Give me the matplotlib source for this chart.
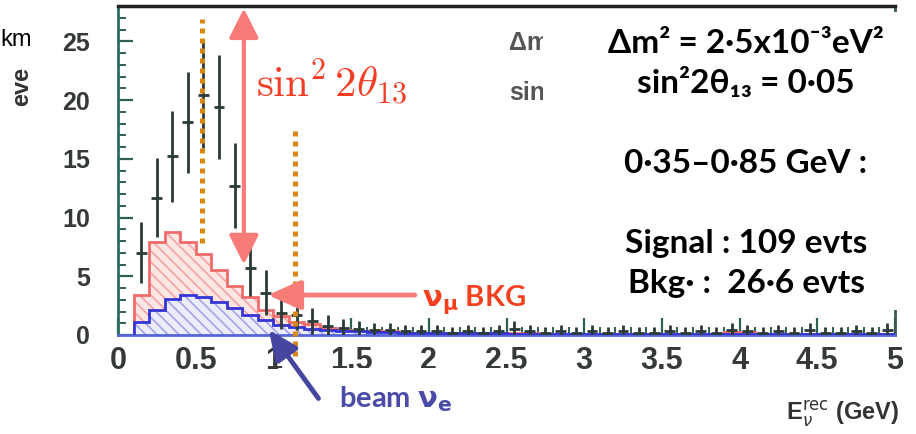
import numpy as np
import matplotlib.pyplot as plt
from matplotlib.patches import Rectangle, FancyArrowPatch

W, H = 916, 434

# 0.1 GeV bins from 0.1 to 5.0 GeV
edges = np.round(np.arange(0.1, 5.001, 0.1), 2)
centers = edges[:-1] + 0.05

data_evts = [7.0, 11.7, 15.2, 18.1, 20.4, 19.4, 12.7, 5.7, 3.6, 1.9, 1.7,
             1.2, 0.8, 0.6, 0.5, 0.4, 0.4, 0.3, 0.3, 0.3,
             0.2, 0.3, 0.2, 0.3, 0.5, 0.3, 0.2, 0.3, 0.2, 0.3,
             0.2, 0.3, 0.2, 0.2, 0.3, 0.2, 0.3, 0.2, 0.4, 0.3,
             0.2, 0.3, 0.2, 0.4, 0.2, 0.2, 0.3, 0.2, 0.4]
data_err = [2.6, 3.4, 3.9, 4.3, 4.5, 4.4, 3.6, 2.4, 1.9, 1.4, 1.3,
            1.1, 0.9, 0.8, 0.7, 0.6, 0.6, 0.55, 0.55, 0.55,
            0.45, 0.55, 0.45, 0.55, 0.7, 0.55, 0.45, 0.55, 0.45, 0.55,
            0.45, 0.55, 0.45, 0.45, 0.55, 0.45, 0.55, 0.45, 0.65, 0.55,
            0.45, 0.55, 0.45, 0.65, 0.45, 0.45, 0.55, 0.45, 0.65]

numu_bkg = [3.4, 7.9, 8.8, 7.9, 6.9, 5.5, 4.2, 3.2, 2.1, 1.6, 1.1,
            0.9, 0.6, 0.45, 0.35, 0.35, 0.3, 0.2, 0.2, 0.15,
            0.15, 0.15, 0.15, 0.15, 0.15, 0.2, 0.12, 0.12, 0.12, 0.12,
            0.12, 0.12, 0.12, 0.12, 0.12, 0.12, 0.12, 0.12, 0.25, 0.25,
            0.12, 0.12, 0.12, 0.12, 0.12, 0.12, 0.12, 0.12, 0.12]
beam_nue = [1.1, 2.1, 3.1, 3.4, 3.2, 2.8, 2.3, 1.7, 1.3, 0.85, 0.7,
            0.55, 0.45, 0.35, 0.3, 0.28, 0.25, 0.2, 0.18, 0.15,
            0.15, 0.14, 0.13, 0.13, 0.12, 0.12, 0.12, 0.11, 0.11, 0.11,
            0.1, 0.1, 0.1, 0.1, 0.1, 0.1, 0.1, 0.1, 0.1, 0.1,
            0.1, 0.1, 0.1, 0.1, 0.1, 0.1, 0.1, 0.1, 0.1]

xticks = [0, 0.5, 1, 1.5, 2, 2.5, 3, 3.5, 4, 4.5, 5]
xtick_labels = ["0", "0.5", "1", "1.5", "2", "2.5", "3", "3.5", "4", "4.5", "5"]
yticks = [0, 5, 10, 15, 20, 25]
ytick_labels = ["0", "5", "10", "15", "20", "25"]
window = [0.54, 1.14]

box_lines = ["Δm² = 2·5x10⁻³eV²", "sin²2θ₁₃ = 0·05", "0·35–0·85 GeV :",
             "Signal : 109 evts", "Bkg· :  26·6 evts"]


def fx(px):
    return px / W


def fy(py):
    return 1 - py / H


plt.rcParams['hatch.linewidth'] = 1.2
fig = plt.figure(figsize=(W / 100, H / 100), dpi=100)
ax = fig.add_axes([fx(118), fy(335), (895 - 118) / W, (335 - 6) / H])

# backgrounds
ax.stairs(numu_bkg, edges, fill=True, facecolor='#fde6e6', edgecolor='#f5a3a3',
          hatch='\\\\\\', lw=0, zorder=1)
ax.stairs(numu_bkg, edges, color='#f26b6b', lw=2, zorder=2)
ax.stairs(beam_nue, edges, fill=True, facecolor='#ececfb', edgecolor='#a3a3ea',
          hatch='\\\\\\', lw=0, zorder=2.5)
ax.stairs(beam_nue, edges, color='#3535d5', lw=2, zorder=3)

ax.errorbar(centers, data_evts, yerr=data_err, xerr=0.035, fmt='none',
            ecolor='#2b3b38', elinewidth=2, capsize=0, zorder=4)

ax.set_xlim(0, 5)
ax.set_ylim(0, 28)
ax.set_xticks(xticks)
ax.set_xticklabels(xtick_labels, fontsize=22, fontweight='bold',
                   family='Liberation Sans')
ax.set_xticks(np.arange(0, 5.01, 0.1), minor=True)
ax.set_yticks(yticks)
ax.set_yticklabels(ytick_labels, fontsize=18, fontweight='bold',
                   family='Liberation Sans')
ax.set_yticks(np.arange(0, 28, 1), minor=True)
ax.tick_params(which='both', direction='in', colors='#2d5f55',
               labelcolor='#353a39', top=False, right=False)
ax.tick_params(axis='y', which='major', length=11, width=1.6, pad=20)
ax.tick_params(axis='y', which='minor', length=6, width=1.4)
ax.tick_params(axis='x', which='major', length=12, width=1.6, pad=8)
ax.tick_params(axis='x', which='minor', length=6, width=1.4)
ax.spines['left'].set_color('#2d6b5e')
ax.spines['left'].set_linewidth(2)
ax.spines['top'].set_color('#222222')
ax.spines['top'].set_linewidth(2.5)
ax.spines['right'].set_color('#3a5a55')
ax.spines['right'].set_linewidth(2)
ax.spines['bottom'].set_color('#5565d8')
ax.spines['bottom'].set_linewidth(2)

# energy window markers
ax.plot([window[0], window[0]], [7.8, 26.9], color='#d98612', lw=3.6,
        ls=(0, (1, 1)), zorder=6)
ax.plot([window[1], window[1]], [-1.8, 17.8], color='#d98612', lw=3.6,
        ls=(0, (1, 1)), zorder=6, clip_on=False)

# arrows and labels
ax.annotate('', xy=(0.81, 27.8), xytext=(0.81, 6.0),
            arrowprops=dict(arrowstyle='<|-|>,head_length=0.9,head_width=0.45',
                            mutation_scale=20, lw=3, color='#f77c78',
                            shrinkA=0, shrinkB=0), zorder=7)
ax.text(0.89, 21.4, r'$\sin^2 2\theta_{13}$', math_fontfamily='cm',
        fontsize=31, color='#f53d25', ha='left', va='center', zorder=7)
ax.annotate('', xy=(0.965, 3.4), xytext=(1.91, 3.4),
            arrowprops=dict(arrowstyle='-|>,head_length=1.0,head_width=0.45',
                            mutation_scale=20, lw=3.5, color='#f77c78',
                            shrinkA=0, shrinkB=0), zorder=7)

# legend remnant under the white box
for txt, py in [("Δm", 50), ("sin", 100)]:
    fig.text(fx(509), fy(py), txt, fontsize=18, weight='bold', color='#555555',
             family=['Liberation Sans', 'DejaVu Sans'], ha='left',
             va='baseline', zorder=2)

# white cover boxes
fig.add_artist(Rectangle((fx(543), fy(310)), (916 - 543) / W, (310 - 12) / H,
                         transform=fig.transFigure, facecolor='white',
                         edgecolor='none', zorder=3))
fig.add_artist(Rectangle((fx(278), 0), (520 - 278) / W, (434 - 368) / H,
                         transform=fig.transFigure, facecolor='white',
                         edgecolor='none', zorder=3))
fig.add_artist(Rectangle((fx(425), fy(318)), (535 - 425) / W, (318 - 276) / H,
                         transform=fig.transFigure, facecolor='white',
                         edgecolor='none', zorder=3))

# beam nu_e arrow sits above the cover box
fig.add_artist(FancyArrowPatch((1.29, -5.4), (0.97, 0.45), transform=ax.transData,
                               arrowstyle='-|>,head_length=0.9,head_width=0.4',
                               mutation_scale=20, lw=3.5, color='#4646a0',
                               shrinkA=0, shrinkB=0, zorder=6))

for txt, py in zip(box_lines, [53, 93, 173, 253, 293]):
    fig.text(fx(746), fy(py), txt, fontsize=24, weight='bold', color='black',
             family=['Lato', 'DejaVu Sans'], ha='center', va='baseline', zorder=5)

fig.text(fx(422), fy(306), r'$\mathbf{\nu}_{\mathbf{\mu}}$ BKG', fontsize=21,
         weight='bold', color='#f5401f', family=['Lato', 'DejaVu Sans'],
         math_fontfamily='dejavusans', ha='left', va='baseline', zorder=5)
fig.text(fx(339), fy(407), r'beam $\mathbf{\nu}_{\mathbf{e}}$', fontsize=21,
         weight='bold', color='#4a4aa8', family=['Lato', 'DejaVu Sans'],
         math_fontfamily='dejavusans', ha='left', va='baseline', zorder=5)

# axis titles (cropped)
fig.text(fx(786), fy(421), r'E$_{\nu}^{\mathrm{rec}}$ (GeV)', fontsize=17,
         weight='bold', color='#333333', family='Liberation Sans',
         ha='left', va='baseline')
fig.text(0, fy(46), 'km', fontsize=17, color='black',
         family='Liberation Sans', ha='left', va='baseline')
fig.text(fx(22), fy(106), 'eve', fontsize=17, weight='bold', color='#333333',
         family='Liberation Sans', rotation='vertical', ha='center', va='bottom')

fig.savefig('out.png', dpi=100)
